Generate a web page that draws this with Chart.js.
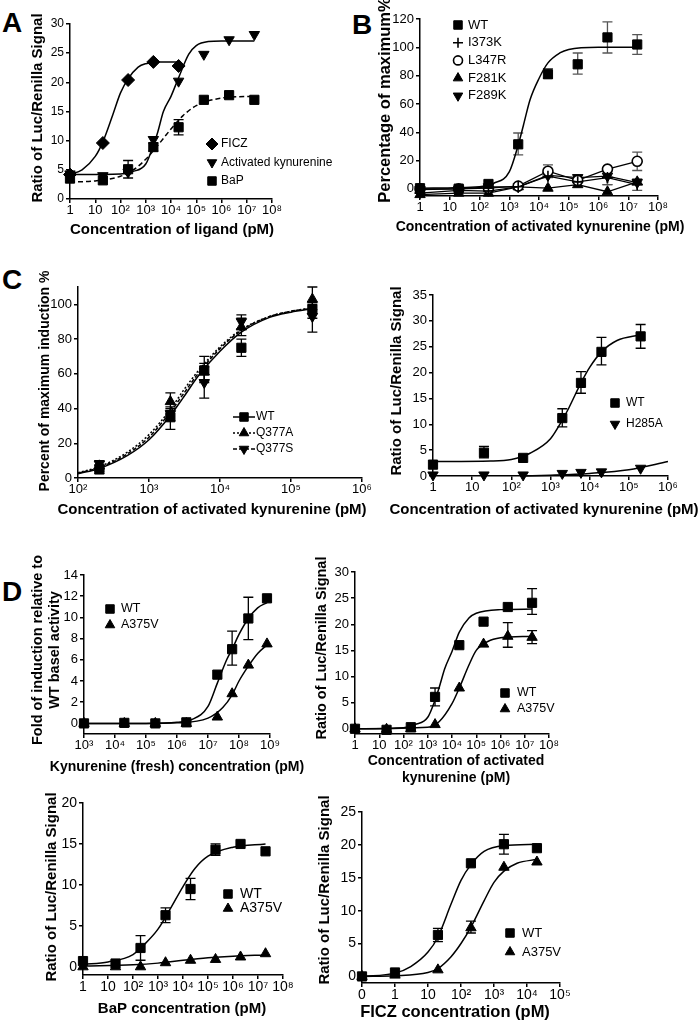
<!DOCTYPE html>
<html lang="en">
<head>
<meta charset="UTF-8">
<title>AhR activation by kynurenine</title>
<script src="https://cdn.jsdelivr.net/npm/chart.js"></script>
<style>
  body { margin: 0; background: #fff; }
  #fig { position: relative; width: 700px; height: 1021px; overflow: hidden; }
  #fig canvas { position: absolute; }
  .tag { position: absolute; font: bold 28px Arial, "Liberation Sans", sans-serif; line-height: 1; }
</style>
</head>
<body>
<div id="fig">
  <div class="tag" style="left:2px;top:9px">A</div>
  <div class="tag" style="left:352px;top:11px">B</div>
  <div class="tag" style="left:2px;top:266px">C</div>
  <div class="tag" style="left:2px;top:578px">D</div>
  <canvas id="cA"></canvas>
  <canvas id="cB"></canvas>
  <canvas id="cC1"></canvas>
  <canvas id="cC2"></canvas>
  <canvas id="cD1"></canvas>
  <canvas id="cD2"></canvas>
  <canvas id="cD3"></canvas>
  <canvas id="cD4"></canvas>
</div>
<script>
// ---- tick labels ----
const decades8 = [1, 10, 1e2, 1e3, 1e4, 1e5, 1e6, 1e7, 1e8];
const decades8Labels = ['1', '10', '10²', '10³', '10⁴', '10⁵', '10⁶', '10⁷', '10⁸'];
const decades6 = [1, 10, 1e2, 1e3, 1e4, 1e5, 1e6];
const decades6Labels = ['1', '10', '10²', '10³', '10⁴', '10⁵', '10⁶'];
const cLeftTicks = [1e2, 1e3, 1e4, 1e5, 1e6];
const cLeftLabels = ['10²', '10³', '10⁴', '10⁵', '10⁶'];
const dFreshTicks = [1e3, 1e4, 1e5, 1e6, 1e7, 1e8, 1e9];
const dFreshLabels = ['10³', '10⁴', '10⁵', '10⁶', '10⁷', '10⁸', '10⁹'];
const dFiczTicks = [0.1, 1, 10, 1e2, 1e3, 1e4, 1e5];
const dFiczLabels = ['0', '1', '10', '10²', '10³', '10⁴', '10⁵'];

// ---- A ----
const aConc = [1, 20, 200, 2000, 20000, 2e5, 2e6, 2e7];
const aFicz = [4.2, 9.6, 20.4, 23.5, 22.8, null, null, null];
const aKyn = [4.3, 4.0, 4.6, 10.2, 20.2, 24.8, 27.3, 28.2];
const aBap = [3.5, 3.2, 5.1, 8.9, 12.3, 17.0, 17.8, 17.0];
const aBapLo = [null, null, 3.6, 8.2, 11.0, null, null, null];
const aBapHi = [null, null, 6.6, 9.6, 13.6, null, null, null];
const aFiczFitX = [1, 3, 10, 20, 50, 100, 200, 500, 1000, 3000, 20000];
const aFiczFitY = [4.2, 5.0, 7.3, 9.8, 14.5, 18.2, 20.6, 22.6, 23.2, 23.5, 23.5];
const aKynFitX = [1, 100, 300, 1000, 2000, 3000, 5000, 10000, 20000, 50000, 1e5, 3e5, 1e6, 2e7];
const aKynFitY = [4.2, 4.3, 4.7, 6.0, 9.2, 11.5, 15.0, 17.6, 20.8, 24.8, 26.3, 27.0, 27.1, 27.1];
const aBapFitX = [1, 10, 100, 300, 1000, 3000, 10000, 30000, 1e5, 1e6, 2e7];
const aBapFitY = [2.9, 3.1, 3.9, 4.9, 6.8, 9.2, 12.0, 14.3, 16.0, 17.3, 17.6];

// ---- B ----
const bConc = [1, 20, 200, 2000, 20000, 2e5, 2e6, 2e7];
const bWT = [0.5, 0.2, 3.5, 31.5, 81, 88, 107, 102];
const bWTLo = [null, null, null, 24, 78, 81, 96, 95];
const bWTHi = [null, null, null, 39.5, 85, 96, 118, 109];
const bI373K = [-3, -1, -1.5, 1.5, 9, 5, 8, 3];
const bI373KLo = [null, null, null, null, null, null, 3, -1];
const bI373KHi = [null, null, null, null, null, null, 12, 7];
const bL347R = [0, 0, 0.5, 2, 12.5, 6, 14, 19.5];
const bL347RLo = [null, null, null, null, 8, null, null, 13];
const bL347RHi = [null, null, null, null, 17, null, null, 26];
const bF281K = [-4, -3, -3, 1.5, 0.5, 3, -2, 5];
const bF289K = [-0.5, 0, 1.5, 1.5, 9.5, 8, 9, 4.5];
const bF289KLo = [null, null, null, null, null, null, 3, null];
const bF289KHi = [null, null, null, null, null, null, 13, null];
const bWTFitX = [1, 100, 300, 1000, 2000, 3000, 5000, 10000, 20000, 50000, 1e5, 1e6, 2e7];
const bWTFitY = [0.5, 1.5, 4, 12, 31, 45, 63, 78, 89, 96, 98.5, 100, 100];

// ---- C left ----
const cConc = [200, 2000, 6000, 20000, 2e5];
const cWT = [5, 35, 62, 75, 97];
const cWTLo = [2.5, 28, 55, 70, 92];
const cWTHi = [7.5, 40, 70, 80, 101];
const cQ377A = [7, 44, 61, 87, 103];
const cQ377ALo = [4, 39, 56, 82, 97];
const cQ377AHi = [10, 49, 66, 92, 110];
const cQ377S = [8, 37, 55, 90, 93];
const cQ377SLo = [5, 33, 46, 86, 84];
const cQ377SHi = [10, 41, 64, 94, 100];
const cFitX = [100, 200, 500, 1000, 2000, 3000, 5000, 10000, 20000, 50000, 1e5, 2e5];
const cWTFitY = [2.5, 5.5, 13, 22, 36, 46, 59, 73, 84, 92.5, 95.5, 97.5];
const cQ377AFitY = [3, 6.5, 15, 25, 39.5, 50, 62, 75.5, 85.5, 93, 96, 98];
const cQ377SFitY = [2.8, 6, 14, 23.5, 38, 48, 60.5, 74.5, 85, 93, 96, 97.8];

// ---- C right ----
const crConc = [1, 20, 200, 2000, 6000, 20000, 2e5];
const crWT = [2.2, 4.5, 3.5, 11.2, 18, 24, 27];
const crWTLo = [null, 3.5, null, 9.5, 16, 21.5, 24.7];
const crWTHi = [null, 5.7, null, 13, 20.2, 26.8, 29.3];
const crH285A = [0.2, 0.2, 0.2, 0.5, 0.7, 0.8, 1.5];
const crWTFitX = [1, 30, 100, 300, 1000, 2000, 3000, 6000, 10000, 20000, 50000, 2e5];
const crWTFitY = [2.8, 2.9, 3.2, 4.4, 7.2, 10.8, 13.3, 18, 21, 24, 26.2, 27.3];
const crH285AFitX = [200, 1000, 10000, 1e5, 1e6];
const crH285AFitY = [0, 0.15, 0.5, 1.2, 2.8];

// ---- D: fresh kynurenine ----
const d1Conc = [1e3, 2e4, 2e5, 2e6, 2e7, 6e7, 2e8, 8e8];
const d1WT = [0, 0.05, 0, 0.1, 4.6, 7.0, 9.9, 11.8];
const d1WTLo = [null, null, null, null, null, 5.5, 7.9, null];
const d1WTHi = [null, null, null, null, null, 8.7, 11.9, null];
const d1A375V = [0, 0, 0, 0, 0.6, 2.8, 5.5, 7.5];
const d1WTFitX = [1e3, 1e5, 1e6, 3e6, 1e7, 2e7, 4e7, 6e7, 1e8, 2e8, 4e8, 8e8];
const d1WTFitY = [0, 0, 0.1, 0.35, 1.6, 3.8, 6.0, 7.0, 8.4, 9.9, 10.9, 11.4];
const d1A375VFitX = [1e3, 1e5, 1e6, 1e7, 3e7, 6e7, 1e8, 2e8, 4e8, 8e8];
const d1A375VFitY = [0, 0, 0.05, 0.5, 1.5, 2.7, 4.0, 5.4, 6.6, 7.4];

// ---- D: activated kynurenine ----
const d2Conc = [1, 20, 200, 2000, 20000, 2e5, 2e6, 2e7];
const d2WT = [0, -0.2, 0.3, 6.1, 16, 20.5, 23.3, 24.1];
const d2WTLo = [null, null, null, 4.4, null, null, null, 21.9];
const d2WTHi = [null, null, null, 7.8, null, null, null, 26.8];
const d2A375V = [0, -0.1, 0, 0.8, 7.8, 16.2, 17.7, 17.5];
const d2A375VLo = [null, null, null, null, null, null, 15.6, 16.3];
const d2A375VHi = [null, null, null, null, null, null, 20.3, 18.8];
const d2WTFitX = [1, 100, 300, 1000, 2000, 3000, 5000, 10000, 20000, 50000, 1e5, 1e6, 2e7];
const d2WTFitY = [0, 0.2, 0.8, 2.2, 5.5, 8.0, 11.5, 14.8, 18.5, 21.2, 22.1, 22.8, 22.9];
const d2A375VFitX = [1, 1000, 3000, 10000, 20000, 50000, 1e5, 3e5, 1e6, 2e7];
const d2A375VFitY = [0, 0.3, 1.4, 4.8, 7.8, 12.2, 15.0, 16.7, 17.4, 17.7];

// ---- D: BaP ----
const d3Conc = [1, 20, 200, 2000, 20000, 2e5, 2e6, 2e7];
const d3WT = [0.7, 0.4, 2.3, 6.3, 9.5, 14.3, 15.0, 14.1];
const d3WTLo = [null, null, 0.8, 5.4, 8.2, 13.6, null, null];
const d3WTHi = [null, null, 3.8, 7.2, 10.8, 15.0, null, null];
const d3A375V = [0, 0, 0, 0.5, 0.8, 0.9, 1.2, 1.6];
const d3WTFitX = [1, 10, 100, 300, 1000, 3000, 10000, 30000, 1e5, 1e6, 2e7];
const d3WTFitY = [0.3, 0.6, 1.5, 2.8, 4.6, 7.0, 9.8, 12.0, 13.5, 14.6, 15.0];
const d3A375VFitX = [1, 100, 1000, 10000, 1e5, 1e6, 2e7];
const d3A375VFitY = [0.1, 0.25, 0.45, 0.8, 1.1, 1.3, 1.45];

// ---- D: FICZ ----
const d4Conc = [0.1, 1, 20, 200, 2000, 20000];
const d4WT = [0, 0.6, 6.3, 17.2, 20.1, 19.5];
const d4WTLo = [null, null, 5.3, null, 18.6, null];
const d4WTHi = [null, null, 7.3, null, 21.6, null];
const d4A375V = [0, 0.2, 1.0, 7.4, 16.6, 17.4];
const d4A375VLo = [null, null, null, 6.6, null, null];
const d4A375VHi = [null, null, null, 8.4, null, null];
const d4WTFitX = [0.1, 1, 3, 10, 20, 50, 100, 200, 500, 2000, 20000];
const d4WTFitY = [0, 0.5, 1.5, 3.7, 6.0, 11.0, 14.6, 17.0, 19.0, 19.9, 20.1];
const d4A375VFitX = [0.1, 1, 10, 20, 50, 100, 200, 500, 1000, 2000, 5000, 20000];
const d4A375VFitY = [0, 0.1, 0.6, 1.2, 3.0, 5.0, 7.5, 11.5, 14.3, 16.0, 17.2, 17.8];

// ---------------------------------------------------------------
const FONT = 'Arial, "Liberation Sans", "DejaVu Sans", sans-serif';
Chart.defaults.font.family = FONT;
Chart.defaults.color = '#000';

// marker shapes
const SQ = { pointStyle: 'rect', pointRadius: 6.5 };
const UP = { pointStyle: 'triangle', pointRadius: 6 };
const DN = { pointStyle: 'triangle', pointRadius: 6, pointRotation: 180 };
const DI = { pointStyle: 'rectRot', pointRadius: 6.5 };
const PL = { pointStyle: 'cross', pointRadius: 5.5, pointBorderWidth: 1.6 };
const OC = { pointStyle: 'circle', pointRadius: 5, pointBackgroundColor: '#fff', pointBorderWidth: 1.6 };

function pts(xs, ys) {
  return xs.map((x, i) => ({ x: x, y: ys[i] }));
}

function marks(label, xs, ys, shape, lo, hi, more) {
  return Object.assign({
    label: label, data: pts(xs, ys), showLine: false, clip: false,
    pointBackgroundColor: '#000', pointBorderColor: '#000', pointBorderWidth: 1,
    borderColor: '#000', borderWidth: 1.3,
    errLo: lo, errHi: hi
  }, shape, more || {});
}

function fit(xs, ys, dash) {
  return {
    data: pts(xs, ys), showLine: true, pointRadius: 0, borderColor: '#000',
    borderWidth: 1.5, borderDash: dash || [], cubicInterpolationMode: 'monotone', clip: false
  };
}

// error bars drawn under the markers
const errPlugin = {
  id: 'errBars',
  beforeDatasetsDraw(chart) {
    const ctx = chart.ctx, ys = chart.scales.y;
    chart.data.datasets.forEach((ds, i) => {
      if (!ds.errLo) return;
      const meta = chart.getDatasetMeta(i);
      ctx.save();
      ctx.strokeStyle = ds.errColor || '#000';
      ctx.lineWidth = 1.3;
      ds.errLo.forEach((lo, j) => {
        const hi = ds.errHi[j];
        if (lo == null || !meta.data[j]) return;
        const x = meta.data[j].x, y1 = ys.getPixelForValue(lo), y2 = ys.getPixelForValue(hi);
        ctx.beginPath();
        ctx.moveTo(x, y1); ctx.lineTo(x, y2);
        ctx.moveTo(x - 5, y1); ctx.lineTo(x + 5, y1);
        ctx.moveTo(x - 5, y2); ctx.lineTo(x + 5, y2);
        ctx.stroke();
      });
      ctx.restore();
    });
  }
};

// legend placed inside the plot
const legendPlugin = {
  id: 'insetLegend',
  afterDraw(chart, args, opts) {
    if (!opts || !opts.items) return;
    const ctx = chart.ctx;
    ctx.save();
    ctx.font = (opts.size || 12) + 'px ' + FONT;
    ctx.textBaseline = 'middle';
    opts.items.forEach((it, k) => {
      const ds = chart.data.datasets[it.ds];
      const x = opts.x, y = opts.y + k * opts.gap;
      if (it.line != null) {
        const ld = chart.data.datasets[it.line];
        ctx.strokeStyle = '#000';
        ctx.lineWidth = 1.5;
        ctx.setLineDash(ld.borderDash || []);
        ctx.beginPath(); ctx.moveTo(x - 11, y); ctx.lineTo(x + 11, y); ctx.stroke();
        ctx.setLineDash([]);
      }
      ctx.fillStyle = ds.pointBackgroundColor || '#000';
      ctx.strokeStyle = '#000';
      ctx.lineWidth = ds.pointBorderWidth || 1;
      Chart.helpers.drawPoint(ctx, {
        pointStyle: ds.pointStyle, rotation: ds.pointRotation || 0,
        radius: ds.pointRadius - 0.5, borderWidth: ds.pointBorderWidth || 1
      }, x, y);
      ctx.fillStyle = '#000';
      ctx.fillText(ds.label, x + opts.dx, y);
    });
    ctx.restore();
  }
};

// axis titles drawn at their own size (Chart.js would squeeze long titles)
const titlePlugin = {
  id: 'axisTitles',
  afterDraw(chart, args, opts) {
    const ctx = chart.ctx;
    ctx.save();
    ctx.fillStyle = '#000';
    ctx.textAlign = 'center';
    ctx.textBaseline = 'middle';
    const xt = opts.x, yt = opts.y;
    ctx.font = 'bold ' + xt.size + 'px ' + FONT;
    [].concat(xt.text).forEach((t, i) => ctx.fillText(t, xt.cx, xt.cy + i * xt.lh));
    ctx.translate(yt.cx, yt.cy);
    ctx.rotate(-Math.PI / 2);
    ctx.font = 'bold ' + yt.size + 'px ' + FONT;
    [].concat(yt.text).forEach((t, i) => ctx.fillText(t, 0, i * yt.lh));
    ctx.restore();
  }
};

function makePanel(id, box, plot, ax, datasets, legend) {
  const cv = document.getElementById(id);
  cv.width = box.w; cv.height = box.h;
  cv.style.left = box.left + 'px'; cv.style.top = box.top + 'px';
  const yw = plot.l - box.left, xh = box.top + box.h - plot.b;
  const tickSize = ax.tickSize || 13;
  const grid = { drawOnChartArea: false, drawTicks: true, tickLength: 4, color: '#000', lineWidth: 1.5 };
  const border = { color: '#000', width: 1.5 };
  const xSize = ax.xTitleSize || 15, ySize = ax.yTitleSize || 15;
  return new Chart(cv, {
    type: 'scatter',
    data: { datasets: datasets },
    options: {
      responsive: false, animation: false, events: [],
      layout: { padding: { top: plot.t - box.top, right: box.left + box.w - plot.r, left: 0, bottom: 0 } },
      scales: {
        x: {
          type: 'logarithmic', min: ax.xMin, max: ax.xMax,
          afterBuildTicks: s => { s.ticks = ax.xTicks.map(v => ({ value: v })); },
          afterFit: s => { s.height = xh; },
          ticks: { autoSkip: false, maxRotation: 0, padding: 0, font: { size: tickSize },
                   callback: (v, i) => ax.xLabels[i] },
          grid: grid, border: border
        },
        y: {
          min: ax.yMin, max: ax.yMax,
          afterBuildTicks: s => { s.ticks = ax.yTicks.map(v => ({ value: v })); },
          afterFit: s => { s.width = yw; },
          ticks: { padding: 2, font: { size: ax.yTickSize || tickSize }, callback: v => String(v) },
          grid: grid, border: border
        }
      },
      plugins: {
        legend: { display: false },
        tooltip: { enabled: false },
        insetLegend: Object.assign({}, legend, { x: legend.x - box.left, y: legend.y - box.top }),
        axisTitles: {
          x: { text: ax.xTitle, size: xSize, lh: ax.xTitleLH || 17,
               cx: (ax.xTitleCX || (plot.l + plot.r) / 2) - box.left, cy: ax.xTitleY - box.top },
          y: { text: ax.yTitle, size: ySize, lh: ySize * 1.2,
               cx: ax.yTitleX - box.left, cy: (ax.yTitleCY || (plot.t + plot.b) / 2) - box.top }
        }
      }
    },
    plugins: [errPlugin, legendPlugin, titlePlugin]
  });
}

const LUC = 'Ratio of Luc/Renilla Signal';
const ACT = 'Concentration of activated kynurenine (pM)';

// A
makePanel('cA', { left: 0, top: 8, w: 345, h: 242 }, { l: 70, t: 24, r: 272, b: 199 },
  { xMin: 1, xMax: 1e8, xTicks: decades8, xLabels: decades8Labels, yMin: 0, yMax: 30,
    yTicks: [0, 5, 10, 15, 20, 25, 30], yTickSize: 12, xTitle: 'Concentration of ligand (pM)', xTitleY: 230,
    xTitleCX: 172, yTitle: LUC, yTitleX: 38, yTitleCY: 108 },
  [
    marks('FICZ', aConc, aFicz, DI),
    marks('Activated kynurenine', aConc, aKyn, DN),
    marks('BaP', aConc, aBap, SQ, aBapLo, aBapHi),
    fit(aFiczFitX, aFiczFitY),
    fit(aKynFitX, aKynFitY),
    fit(aBapFitX, aBapFitY, [5, 3])
  ],
  { x: 212, y: 144, gap: 18.5, dx: 9, size: 12, items: [{ ds: 0 }, { ds: 1 }, { ds: 2 }] });

// B
makePanel('cB', { left: 345, top: 0, w: 355, h: 250 }, { l: 420, t: 19, r: 658, b: 196 },
  { xMin: 1, xMax: 1e8, xTicks: decades8, xLabels: decades8Labels, yMin: -5, yMax: 120,
    yTicks: [0, 20, 40, 60, 80, 100, 120], xTitle: ACT, xTitleY: 227, xTitleSize: 14, xTitleCX: 540,
    yTitle: 'Percentage of maximum%', yTitleX: 385, yTitleSize: 16.5, yTitleCY: 100 },
  [
    marks('WT', bConc, bWT, SQ, bWTLo, bWTHi, { errColor: '#555' }),
    marks('I373K', bConc, bI373K, PL, bI373KLo, bI373KHi, { showLine: true, errColor: '#555' }),
    marks('L347R', bConc, bL347R, OC, bL347RLo, bL347RHi, { showLine: true, errColor: '#555' }),
    marks('F281K', bConc, bF281K, UP, null, null, { showLine: true }),
    marks('F289K', bConc, bF289K, DN, bF289KLo, bF289KHi, { showLine: true, errColor: '#555' }),
    fit(bWTFitX, bWTFitY)
  ],
  { x: 458, y: 25, gap: 17.7, dx: 10, size: 13, items: [{ ds: 0 }, { ds: 1 }, { ds: 2 }, { ds: 3 }, { ds: 4 }] });

// C left
makePanel('cC1', { left: 0, top: 262, w: 372, h: 263 }, { l: 78, t: 287, r: 362, b: 478 },
  { xMin: 1e2, xMax: 1e6, xTicks: cLeftTicks, xLabels: cLeftLabels, yMin: 0, yMax: 110,
    yTicks: [0, 20, 40, 60, 80, 100], xTitle: ACT, xTitleY: 510, xTitleCX: 212,
    yTitle: 'Percent of maximum induction %', yTitleX: 45, yTitleSize: 14, yTitleCY: 381 },
  [
    marks('WT', cConc, cWT, SQ, cWTLo, cWTHi),
    marks('Q377A', cConc, cQ377A, UP, cQ377ALo, cQ377AHi),
    marks('Q377S', cConc, cQ377S, DN, cQ377SLo, cQ377SHi),
    fit(cFitX, cWTFitY),
    fit(cFitX, cQ377AFitY, [2, 2]),
    fit(cFitX, cQ377SFitY, [4, 2])
  ],
  { x: 244, y: 417, gap: 16, dx: 12, size: 12, items: [{ ds: 0, line: 3 }, { ds: 1, line: 4 }, { ds: 2, line: 5 }] });

// C right
makePanel('cC2', { left: 372, top: 262, w: 328, h: 263 }, { l: 433, t: 295, r: 668, b: 476 },
  { xMin: 1, xMax: 1e6, xTicks: decades6, xLabels: decades6Labels, yMin: 0, yMax: 35,
    yTicks: [0, 5, 10, 15, 20, 25, 30, 35], xTitle: ACT, xTitleY: 510, xTitleCX: 544,
    yTitle: LUC, yTitleX: 397, yTitleCY: 381 },
  [
    marks('WT', crConc, crWT, SQ, crWTLo, crWTHi),
    marks('H285A', crConc, crH285A, DN),
    fit(crWTFitX, crWTFitY),
    fit(crH285AFitX, crH285AFitY)
  ],
  { x: 615, y: 403, gap: 21, dx: 11, size: 12, items: [{ ds: 0 }, { ds: 1 }] });

// D fresh kynurenine
makePanel('cD1', { left: 0, top: 540, w: 305, h: 250 }, { l: 84, t: 575, r: 270, b: 734 },
  { xMin: 1e3, xMax: 1e9, xTicks: dFreshTicks, xLabels: dFreshLabels, yMin: -1, yMax: 14,
    yTicks: [0, 2, 4, 6, 8, 10, 12, 14], xTitle: 'Kynurenine (fresh) concentration (pM)', xTitleY: 767,
    xTitleSize: 14, xTitleCX: 177, yTitle: ['Fold of induction relative to', 'WT basel activity'],
    yTitleX: 38, yTitleSize: 14.5, yTitleCY: 650 },
  [
    marks('WT', d1Conc, d1WT, SQ, d1WTLo, d1WTHi),
    marks('A375V', d1Conc, d1A375V, UP),
    fit(d1WTFitX, d1WTFitY),
    fit(d1A375VFitX, d1A375VFitY)
  ],
  { x: 110, y: 609, gap: 16, dx: 11, size: 12.5, items: [{ ds: 0 }, { ds: 1 }] });

// D activated kynurenine
makePanel('cD2', { left: 305, top: 550, w: 290, h: 240 }, { l: 355, t: 572, r: 549, b: 734 },
  { xMin: 1, xMax: 1e8, xTicks: decades8, xLabels: decades8Labels, yMin: -1, yMax: 30,
    yTicks: [0, 5, 10, 15, 20, 25, 30], xTitle: ['Concentration of activated', 'kynurenine (pM)'],
    xTitleY: 761, xTitleSize: 14, xTitleLH: 17, xTitleCX: 456, yTitle: LUC, yTitleX: 322,
    yTitleSize: 14.5, yTitleCY: 648 },
  [
    marks('WT', d2Conc, d2WT, SQ, d2WTLo, d2WTHi),
    marks('A375V', d2Conc, d2A375V, UP, d2A375VLo, d2A375VHi),
    fit(d2WTFitX, d2WTFitY),
    fit(d2A375VFitX, d2A375VFitY)
  ],
  { x: 505, y: 693, gap: 16, dx: 12, size: 12.5, items: [{ ds: 0 }, { ds: 1 }] });

// D BaP
makePanel('cD3', { left: 0, top: 790, w: 305, h: 231 }, { l: 83, t: 803, r: 283, b: 975 },
  { xMin: 1, xMax: 1e8, xTicks: decades8, xLabels: decades8Labels, yMin: -1, yMax: 20,
    yTicks: [0, 5, 10, 15, 20], tickSize: 14, xTitle: 'BaP concentration (pM)', xTitleY: 1009,
    xTitleCX: 182, yTitle: LUC, yTitleX: 52, yTitleCY: 887 },
  [
    marks('WT', d3Conc, d3WT, SQ, d3WTLo, d3WTHi),
    marks('A375V', d3Conc, d3A375V, UP),
    fit(d3WTFitX, d3WTFitY),
    fit(d3A375VFitX, d3A375VFitY)
  ],
  { x: 228, y: 894, gap: 14.5, dx: 12, size: 14, items: [{ ds: 0 }, { ds: 1 }] });

// D FICZ
makePanel('cD4', { left: 305, top: 795, w: 300, h: 226 }, { l: 362, t: 812, r: 560, b: 983 },
  { xMin: 0.1, xMax: 1e5, xTicks: dFiczTicks, xLabels: dFiczLabels, yMin: -1, yMax: 25,
    yTicks: [0, 5, 10, 15, 20, 25], tickSize: 14, xTitle: 'FICZ concentration (pM)', xTitleY: 1012,
    xTitleSize: 16.5, xTitleCX: 455, yTitle: LUC, yTitleX: 325, yTitleCY: 890 },
  [
    marks('WT', d4Conc, d4WT, SQ, d4WTLo, d4WTHi),
    marks('A375V', d4Conc, d4A375V, UP, d4A375VLo, d4A375VHi),
    fit(d4WTFitX, d4WTFitY),
    fit(d4A375VFitX, d4A375VFitY)
  ],
  { x: 510, y: 933, gap: 19, dx: 12, size: 13, items: [{ ds: 0 }, { ds: 1 }] });
</script>
</body>
</html>
